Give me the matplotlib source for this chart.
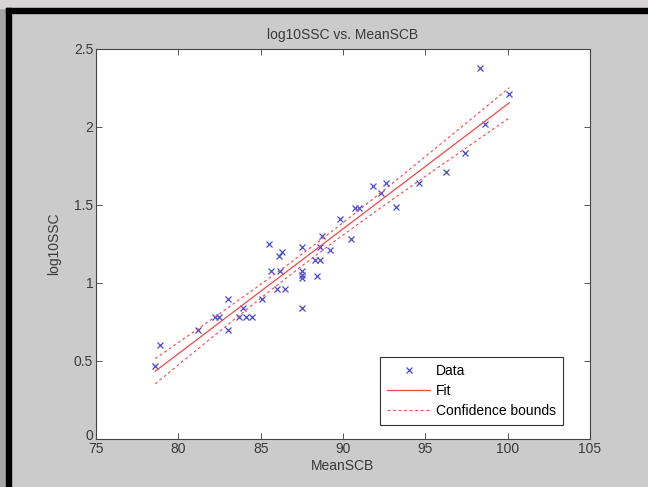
import numpy as np
import matplotlib
matplotlib.use("Agg")
import matplotlib.pyplot as plt
import matplotlib.transforms as mtransforms
from matplotlib.patches import Rectangle

plt.rcParams['font.family'] = ['Liberation Sans', 'DejaVu Sans']

# values
mean_scb = [78.9, 78.6, 81.2, 82.2, 82.5, 83.0, 83.0, 83.9, 83.7, 84.1,
            84.5, 85.1, 85.5, 85.6, 86.0, 86.5, 86.1, 86.3, 86.2, 87.5,
            87.5, 87.5, 87.5, 87.5, 88.4, 88.3, 88.6, 88.6, 89.2, 88.7,
            89.8, 90.5, 90.7, 91.0, 91.8, 92.3, 92.6, 93.2, 94.6, 96.25,
            97.4, 98.3, 98.6, 100.1]
log10ssc = [0.60, 0.47, 0.70, 0.78, 0.78, 0.90, 0.70, 0.84, 0.78, 0.78,
            0.78, 0.90, 1.25, 1.08, 0.96, 0.96, 1.175, 1.20, 1.08, 0.84,
            1.08, 1.05, 1.03, 1.23, 1.045, 1.15, 1.15, 1.23, 1.21, 1.30,
            1.41, 1.28, 1.48, 1.48, 1.62, 1.58, 1.64, 1.49, 1.64, 1.71,
            1.835, 2.38, 2.02, 2.21]

x = np.array(mean_scb)
y = np.array(log10ssc)
n = len(x)
b, a = np.polyfit(x, y, 1)
xf = np.linspace(x.min(), x.max(), 100)
yf = a + b * xf
res = y - (a + b * x)
s = np.sqrt(np.sum(res ** 2) / (n - 2))
sxx = np.sum((x - x.mean()) ** 2)
half = 2.02 * s * np.sqrt(1.0 / n + (xf - x.mean()) ** 2 / sxx)

fig = plt.figure(figsize=(6.48, 4.87), dpi=100, facecolor='#cbcbcb')

# screenshot frame
fig.patches.append(Rectangle((0, 0), 6 / 648, 1, transform=fig.transFigure,
                             color='#a7a4a6', zorder=-2))
fig.patches.append(Rectangle((0, 1 - 8 / 487), 1, 8 / 487, transform=fig.transFigure,
                             color='#d6d4d5', zorder=-2))
fig.patches.append(Rectangle((6 / 648, 0), 5 / 648, 1 - 8 / 487, transform=fig.transFigure,
                             color='black', zorder=-1))
fig.patches.append(Rectangle((6 / 648, 1 - 13 / 487), 1, 5 / 487, transform=fig.transFigure,
                             color='black', zorder=-1))

ax = fig.add_axes([96 / 648, 48 / 487, 494 / 648, 390 / 487])
ax.plot(x, y, 'x', color='#4a4ad0', markersize=4, markeredgewidth=0.9, label='Data')
ax.plot(xf, yf, '-', color='#f04848', linewidth=0.9, label='Fit')
ax.plot(xf, yf + half, '--', color='#f04848', linewidth=0.8, dashes=(2.5, 2.5),
        label='Confidence bounds')
ax.plot(xf, yf - half, '--', color='#f04848', linewidth=0.8, dashes=(2.5, 2.5))

ax.set_xlim(75, 105)
ax.set_ylim(0, 2.5)
ax.set_xticks([75, 80, 85, 90, 95, 100, 105])
ax.set_yticks([0, 0.5, 1, 1.5, 2, 2.5])
ax.set_yticklabels(['0', '0.5', '1', '1.5', '2', '2.5'])
ax.tick_params(direction='in', length=4, width=0.6, labelsize=10, colors='#3a3a3a',
               top=True, right=True, pad=2)
for sp in ax.spines.values():
    sp.set_linewidth(0.8)
    sp.set_color('#444444')

# lift the "0" a little, like MATLAB does at the corner
lbl0 = ax.get_yticklabels()[0]
lbl0.set_transform(lbl0.get_transform() +
                   mtransforms.ScaledTranslation(0, 5 / 100, fig.dpi_scale_trans))

ax.set_title('log10SSC vs. MeanSCB', fontsize=10, color='#3a3a3a', pad=7)
ax.set_xlabel('MeanSCB', fontsize=10, color='#3a3a3a', labelpad=2)
ax.set_ylabel('log10SSC', fontsize=10, color='#3a3a3a', labelpad=9)

leg = ax.legend(loc='lower right', bbox_to_anchor=(0.945, 0.036), fontsize=10,
                fancybox=False, framealpha=1, edgecolor='#333333', borderaxespad=0,
                borderpad=0.5, handlelength=3.1, handletextpad=0.4, labelspacing=0.45)
leg.get_frame().set_linewidth(0.8)

fig.savefig('out.png', dpi=100, facecolor=fig.get_facecolor())
